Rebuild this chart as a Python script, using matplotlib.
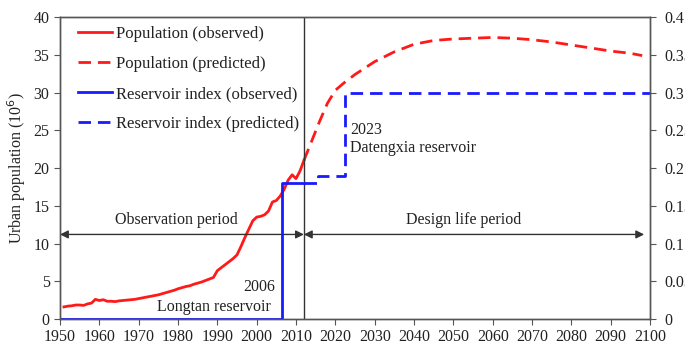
import matplotlib
matplotlib.use('Agg')
import matplotlib.pyplot as plt

plt.rcParams['font.family'] = ['Liberation Serif', 'DejaVu Serif']
plt.rcParams['font.size'] = 11.5

# urban population, 10^6 (observed, yearly)
obs_years = list(range(1951, 2013))
obs_pop = [1.6, 1.7, 1.75, 1.85, 1.85, 1.8, 2.0, 2.1, 2.6, 2.45,
           2.55, 2.35, 2.35, 2.3, 2.4, 2.45, 2.5, 2.55, 2.6, 2.7,
           2.8, 2.9, 3.0, 3.1, 3.2, 3.35, 3.5, 3.65, 3.8, 4.0,
           4.15, 4.3, 4.4, 4.6, 4.75, 4.9, 5.1, 5.3, 5.5, 6.4,
           6.8, 7.2, 7.6, 8.0, 8.5, 9.6, 10.8, 11.9, 13.0, 13.5,
           13.6, 13.8, 14.3, 15.5, 15.7, 16.3, 17.2, 18.4, 19.1, 18.6,
           19.6, 21.0]

# predicted population
pred_years = [2012, 2014, 2016, 2018, 2020, 2022, 2025, 2030, 2035, 2040,
              2045, 2050, 2055, 2060, 2065, 2070, 2075, 2080, 2085, 2090,
              2095, 2098]
pred_pop = [21.0, 23.6, 26.2, 28.6, 30.3, 31.2, 32.4, 34.1, 35.4, 36.4,
            36.9, 37.1, 37.2, 37.3, 37.2, 37.0, 36.7, 36.3, 35.9, 35.5,
            35.2, 34.9]

# reservoir index (step changes)
ri_obs_years = [1950, 2006.5, 2012]
ri_obs = [0.0, 0.18, 0.18]
ri_pred_years = [2012, 2015.5, 2022.5, 2100]
ri_pred = [0.18, 0.19, 0.30, 0.30]

xticks = list(range(1950, 2101, 10))
y2ticks = [0, 0.05, 0.1, 0.15, 0.2, 0.25, 0.3, 0.35, 0.4]
y2labels = ['0', '0.05', '0.1', '0.15', '0.2', '0.25', '0.3', '0.35', '0.4']

fig = plt.figure(figsize=(6.85, 3.56), dpi=100)
ax = fig.add_axes([0.0876, 0.104, 0.8614, 0.848])
ax2 = ax.twinx()

edge = '#555555'
txt = '#222222'
red = '#ff1a1a'
blue = '#1a1aff'
dash = (4.5, 2.5)

l1, = ax.plot(obs_years, obs_pop, color=red, lw=2, label='Population (observed)')
l2, = ax.plot(pred_years, pred_pop, color=red, lw=2, dashes=dash,
              label='Population (predicted)')
l3, = ax2.plot(ri_obs_years, ri_obs, color=blue, lw=2, drawstyle='steps-post',
               label='Reservoir index (observed)')
l4, = ax2.plot(ri_pred_years, ri_pred, color=blue, lw=2, dashes=dash,
               drawstyle='steps-post', label='Reservoir index (predicted)')

ax.axvline(2012, color='#333333', lw=1)

ax.set_xlim(1950, 2100)
ax.set_ylim(0, 40)
ax2.set_ylim(0, 0.4)
ax.set_xticks(xticks)
ax.set_yticks(range(0, 41, 5))
ax2.set_yticks(y2ticks)
ax2.set_yticklabels(y2labels)

for a in (ax, ax2):
    for s in a.spines.values():
        s.set_color(edge)
        s.set_linewidth(1)
    a.tick_params(colors=edge, labelcolor=txt, length=4, direction='out', labelsize=11.5)
ax2.tick_params(axis='y', pad=6)

ax.set_ylabel('Urban population (10$^6$)', labelpad=4, color=txt)
ax.set_xlabel('Year', labelpad=15, color=txt)

# period arrows
ax.annotate('', xy=(1950, 11.2), xytext=(2012, 11.2),
            arrowprops=dict(arrowstyle='<|-|>', color='#333333', lw=1,
                            mutation_scale=12, shrinkA=0, shrinkB=0))
ax.annotate('', xy=(2012, 11.2), xytext=(2098.5, 11.2),
            arrowprops=dict(arrowstyle='<|-|>', color='#333333', lw=1,
                            mutation_scale=12, shrinkA=0, shrinkB=0))
ax.text(1979.7, 12.0, 'Observation period', ha='center', va='bottom', color=txt)
ax.text(2052.5, 12.0, 'Design life period', ha='center', va='bottom', color=txt)

ax.text(2004.8, 4.3, '2006', ha='right', va='center', color=txt)
ax.text(2003.5, 1.6, 'Longtan reservoir', ha='right', va='center', color=txt)
ax.text(2023.8, 25.0, '2023', ha='left', va='center', color=txt)
ax.text(2023.8, 22.6, 'Datengxia reservoir', ha='left', va='center', color=txt)

leg = ax.legend(handles=[l1, l2, l3, l4], loc='upper left', frameon=False,
                fontsize=12, handlelength=2.0, handletextpad=0.25,
                labelspacing=0.85, borderaxespad=0.3, borderpad=0.3,
                bbox_to_anchor=(0.014, 1.005))
for t in leg.get_texts():
    t.set_color(txt)

fig.savefig('out.png', dpi=100)
